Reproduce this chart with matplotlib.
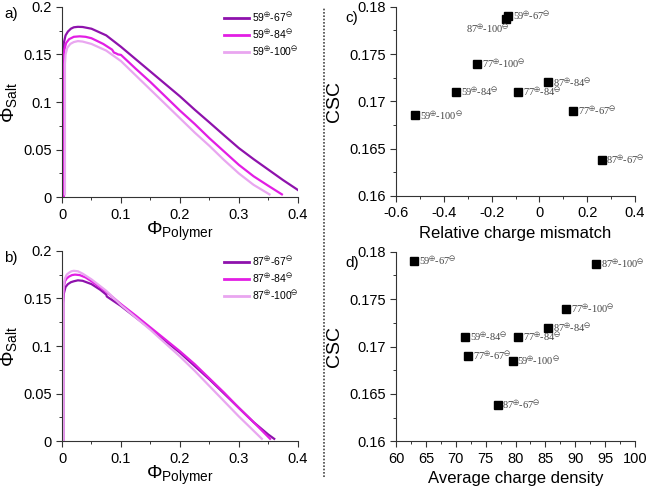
import matplotlib
matplotlib.use("Agg")
import matplotlib.pyplot as plt
from matplotlib.ticker import MultipleLocator, FuncFormatter
from matplotlib.lines import Line2D

plt.rcParams['font.family'] = ['Liberation Sans', 'DejaVu Sans']
plt.rcParams['mathtext.default'] = 'regular'

# ---- panel a: 59+ with different polyanions ----
a67_x = [0.002, 0.002, 0.003, 0.006, 0.01, 0.015, 0.02, 0.027, 0.035, 0.05, 0.075, 0.1, 0.125,
         0.15, 0.175, 0.2, 0.225, 0.25, 0.275, 0.3, 0.325, 0.35, 0.375, 0.4]
a67_y = [0.0, 0.15, 0.162, 0.170, 0.174, 0.177, 0.1785, 0.179, 0.1788, 0.177, 0.170, 0.158, 0.145,
         0.132, 0.119, 0.106, 0.092, 0.0786, 0.065, 0.0516, 0.040, 0.029, 0.018, 0.0077]
a84_x = [0.003, 0.003, 0.004, 0.007, 0.012, 0.02, 0.03, 0.04, 0.05, 0.07, 0.085, 0.088, 0.092,
         0.095, 0.1, 0.125, 0.15, 0.175, 0.2, 0.225, 0.25, 0.275, 0.3, 0.325, 0.35, 0.373]
a84_y = [0.0, 0.145, 0.155, 0.162, 0.166, 0.1685, 0.169, 0.1685, 0.167, 0.161, 0.155, 0.152, 0.151,
         0.150, 0.1495, 0.135, 0.121, 0.106, 0.091, 0.077, 0.062, 0.048, 0.034, 0.022, 0.012, 0.003]
a100_x = [0.005, 0.005, 0.006, 0.009, 0.014, 0.02, 0.027, 0.035, 0.05, 0.075, 0.1, 0.125, 0.15,
          0.175, 0.2, 0.225, 0.25, 0.275, 0.3, 0.325, 0.352]
a100_y = [0.003, 0.14, 0.150, 0.157, 0.161, 0.163, 0.164, 0.1635, 0.161, 0.154, 0.143, 0.128, 0.113,
          0.098, 0.083, 0.068, 0.054, 0.039, 0.025, 0.013, 0.003]

# ---- panel b: 87+ with different polyanions ----
b67_x = [0.002, 0.002, 0.003, 0.006, 0.01, 0.015, 0.02, 0.027, 0.035, 0.05, 0.065, 0.075, 0.076,
         0.1, 0.125, 0.15, 0.175, 0.2, 0.225, 0.25, 0.275, 0.3, 0.325, 0.35, 0.36]
b67_y = [0.0, 0.145, 0.155, 0.162, 0.165, 0.167, 0.168, 0.169, 0.1685, 0.165, 0.159, 0.154, 0.152,
         0.142, 0.130, 0.118, 0.1055, 0.093, 0.079, 0.065, 0.050, 0.035, 0.020, 0.007, 0.0025]
b84_x = [0.002, 0.002, 0.003, 0.005, 0.008, 0.012, 0.017, 0.022, 0.03, 0.04, 0.05, 0.075, 0.1,
         0.125, 0.15, 0.175, 0.2, 0.225, 0.25, 0.275, 0.3, 0.325, 0.353]
b84_y = [0.0, 0.15, 0.162, 0.168, 0.171, 0.173, 0.1745, 0.175, 0.1745, 0.172, 0.168, 0.157, 0.144,
         0.132, 0.1195, 0.107, 0.0945, 0.081, 0.066, 0.051, 0.035, 0.020, 0.0025]
b100_x = [0.002, 0.002, 0.003, 0.005, 0.008, 0.012, 0.016, 0.02, 0.027, 0.035, 0.05, 0.075, 0.1,
          0.125, 0.15, 0.175, 0.2, 0.225, 0.25, 0.275, 0.3, 0.32, 0.339]
b100_y = [0.0, 0.155, 0.165, 0.171, 0.175, 0.177, 0.1785, 0.179, 0.1785, 0.176, 0.170, 0.158, 0.143,
          0.130, 0.117, 0.103, 0.089, 0.074, 0.058, 0.042, 0.026, 0.014, 0.0025]

# ---- panels c, d: CSC vs mismatch / density ----
pairs = ['59-67', '87-100', '77-100', '87-84', '59-84', '77-84', '77-67', '59-100', '87-67']
mismatch = [-0.13, -0.14, -0.26, 0.035, -0.35, -0.09, 0.14, -0.52, 0.26]
density = [63, 93.5, 88.5, 85.5, 71.5, 80.5, 72, 79.5, 77]
csc = [0.179, 0.1787, 0.174, 0.172, 0.171, 0.171, 0.169, 0.1685, 0.1638]

c_dark = '#8E12AC'
c_mag = '#E21EE4'
c_light = '#E9A6F0'

plain = FuncFormatter(lambda v, pos: '%g' % round(v, 4))


def pair_label(p):
    a, b = p.split('-')
    return a + r'$^{\oplus}$-' + b + r'$^{\ominus}$'


def style_axes(ax):
    ax.spines['top'].set_visible(False)
    ax.spines['right'].set_visible(False)
    for s in ['left', 'bottom']:
        ax.spines[s].set_linewidth(0.8)
        ax.spines[s].set_color('#333333')
    ax.tick_params(which='major', direction='out', length=4, width=0.8, labelsize=10.5, colors='#333333')
    ax.tick_params(which='minor', direction='out', length=2, width=0.7, colors='#333333')
    ax.tick_params(labelcolor='black')
    ax.xaxis.set_major_formatter(plain)
    ax.yaxis.set_major_formatter(plain)


fig = plt.figure(figsize=(6.46, 4.87), dpi=100)
ax_a = fig.add_axes([0.096, 0.595, 0.365, 0.391])
ax_b = fig.add_axes([0.096, 0.094, 0.365, 0.391])
ax_c = fig.add_axes([0.613, 0.598, 0.370, 0.388])
ax_d = fig.add_axes([0.613, 0.094, 0.370, 0.389])

# phase diagrams
for ax, curves, cation in [
    (ax_a, [(a67_x, a67_y, c_dark, '67'), (a84_x, a84_y, c_mag, '84'), (a100_x, a100_y, c_light, '100')], '59'),
    (ax_b, [(b67_x, b67_y, c_dark, '67'), (b84_x, b84_y, c_mag, '84'), (b100_x, b100_y, c_light, '100')], '87'),
]:
    for x, y, col, an in curves:
        ax.plot(x, y, color=col, lw=1.6, label=pair_label(cation + '-' + an))
    ax.set_xlim(0, 0.4)
    ax.set_ylim(0, 0.2)
    ax.xaxis.set_major_locator(MultipleLocator(0.1))
    ax.xaxis.set_minor_locator(MultipleLocator(0.05))
    ax.yaxis.set_major_locator(MultipleLocator(0.05))
    ax.yaxis.set_minor_locator(MultipleLocator(0.025))
    ax.set_xlabel(r'$\Phi_{Polymer}$', fontsize=14, labelpad=-1)
    ax.set_ylabel(r'$\Phi_{Salt}$', fontsize=14, labelpad=3)
    leg = ax.legend(loc='upper right', bbox_to_anchor=(1.02, 1.0), frameon=False, fontsize=7.5,
                    handlelength=2.4, handletextpad=0.3, labelspacing=0.35, borderaxespad=0.0)
    for h in leg.get_lines():
        h.set_linewidth(2.0)
    style_axes(ax)

# scatter panels
for ax, xs, xlabel in [(ax_c, mismatch, 'Relative charge mismatch'), (ax_d, density, 'Average charge density')]:
    ax.plot(xs, csc, 's', color='black', ms=6, ls='none')
    for p, xv, yv in zip(pairs, xs, csc):
        if ax is ax_c and p == '87-100':
            ax.annotate(pair_label(p), (xv, yv), xytext=(3, -7), textcoords='offset points',
                        ha='right', va='center', fontsize=7.5, family='Liberation Serif', color='#444444')
        else:
            ax.annotate(pair_label(p), (xv, yv), xytext=(3.5, 0), textcoords='offset points',
                        ha='left', va='center', fontsize=7.5, family='Liberation Serif', color='#444444')
    ax.set_ylim(0.16, 0.18)
    ax.yaxis.set_major_locator(MultipleLocator(0.005))
    ax.yaxis.set_minor_locator(MultipleLocator(0.0025))
    ax.set_ylabel('CSC', fontsize=14, labelpad=4)
    ax.set_xlabel(xlabel, fontsize=12, labelpad=4)
    style_axes(ax)

ax_c.set_xlim(-0.6, 0.4)
ax_c.xaxis.set_major_locator(MultipleLocator(0.2))
ax_c.xaxis.set_minor_locator(MultipleLocator(0.1))
ax_d.set_xlim(60, 100)
ax_d.xaxis.set_major_locator(MultipleLocator(5))
ax_d.xaxis.set_minor_locator(MultipleLocator(2.5))

# panel letters
fig.text(0.006, 0.963, 'a)', fontsize=11)
fig.text(0.006, 0.462, 'b)', fontsize=11)
fig.text(0.535, 0.955, 'c)', fontsize=11)
fig.text(0.535, 0.452, 'd)', fontsize=11)

# dotted separator
fig.add_artist(Line2D([0.502, 0.502], [0.02, 0.985], transform=fig.transFigure,
                      color='#444444', lw=1.2, ls=(0, (1, 1))))

fig.savefig('out.png', dpi=100)
